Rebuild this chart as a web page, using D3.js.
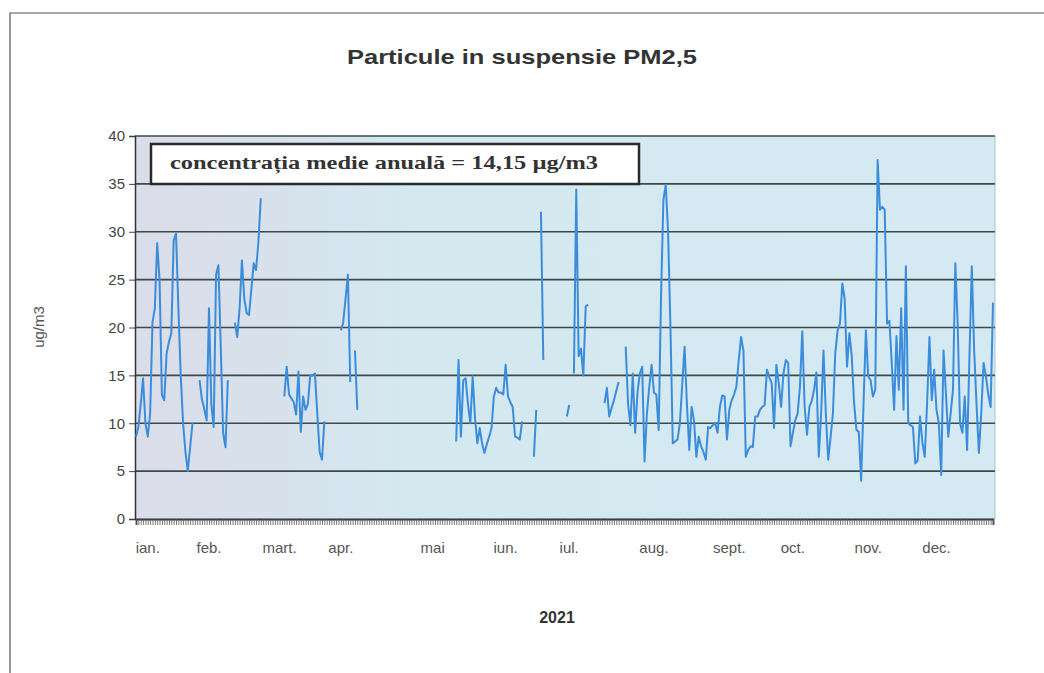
<!DOCTYPE html>
<html><head><meta charset="utf-8">
<script src="https://cdn.jsdelivr.net/npm/d3@7"></script>
<style>body{margin:0;background:#fff;}svg{display:block;}</style>
</head><body>
<svg id="c" width="1044" height="673"></svg>
<script>
// Daily PM2.5 values (µg/m3), 2021, null = missing day
const jan = [8.6,9.6,12,14.7,10,8.6,11,20.5,22,28.8,25,13,12.4,17.3,18.5,19.4,29.1,29.8,22,15,10,7,5,7.5,10,null,null,14.5,12.5,11.5,10.3];
const feb = [22,12,9.6,25.5,26.5,18,9,7.5,14.5,null,null,20.5,19,22,27,23,21.5,21.3,24,26.7,26,29,33.5,null,null,null,null,null];
const mar = [null,null,null,null,12.8,15.9,13,12.6,12.2,10.9,15.4,9.1,12.8,11.4,12,15,15,15.2,11,7,6.2,10.2,null,null,null,null,null,null,19.7,20.5,23];
const apr = [25.5,14.3,null,17.6,11.4,null,null,null,null,null,null,null,null,null,null,null,null,null,null,null,null,null,null,null,null,null,null,null,null,null];
const mai = [null,null,null,null,null,null,null,null,null,null,null,null,null,null,null,null,8.1,16.6,8.6,14.5,14.7,12,10,14.9,10.5,7.9,9.5,7.9,6.9,7.8,8.6];
const iun = [9.5,12.8,13.7,13.2,13.2,13,16.1,12.8,12.2,11.7,8.6,8.5,8.3,10.2,null,null,null,null,6.5,11.4,null,32.1,16.6,null,null,null,null,null,null,null];
const iul = [null,null,10.7,11.9,null,15.2,34.4,17,17.8,15,22.2,22.4,null,null,null,null,null,null,12.1,13.7,10.7,11.6,12.4,13.4,14.3,null,null,18,12,9.8,15.2];
const aug = [9,13.2,15.2,15.9,6,11,13.8,16.1,13.2,13,9.3,23.2,33.3,34.9,30,20,7.9,8.1,8.3,10,14,18,12,7.2,11.7,10.3,6.5,8.6,7.6,7,6.2];
const sep = [9.6,9.5,9.8,10,9,11.7,12.9,12.8,8.3,11.4,12.4,13,13.8,16.6,19,17.6,6.5,7.2,7.6,7.5,10.7,10.7,11.4,11.7,11.9,15.6,14.8,14.2,9.5,16.1];
const oct = [14.2,11.7,15.2,16.6,16.3,7.6,9,10.3,11,13.8,19.6,11.7,8.8,11.7,12.3,13.5,15.3,6.5,11,17.6,11,6.2,8.5,11,17.3,19.7,20.4,24.6,23,15.9,19.4];
const nov = [17,12.1,9.3,9.1,4,12,19.7,14.9,14.5,12.8,13.5,37.5,32.3,32.6,32.3,20.4,20.7,16.3,11.4,19.1,13.5,22,11.4,26.4,10,9.8,9.6,5.8,6.1,10.7];
const dec = [8,6.5,12,19,12.4,15.6,11.4,10,4.6,17.6,13.1,8.6,11,13.5,26.7,20.4,10,9,12.8,7.2,17,26.4,17.6,12,6.9,11,16.3,14.9,13,11.7,22.6];

const monthLabels = ["ian.","feb.","mart.","apr.","mai","iun.","iul.","aug.","sept.","oct.","nov.","dec."];
const monthLabelDay = [5,31,61,87,126,157,184,220,252,279,311,340];
const yTicks = [0,5,10,15,20,25,30,35,40];
const title = "Particule in suspensie PM2,5";
const annotation = "concentrația medie anuală  = 14,15 µg/m3";
const xTitle = "2021";
const yTitle = "ug/m3";

const values = [].concat(jan,feb,mar,apr,mai,iun,iul,aug,sep,oct,nov,dec);

const svg = d3.select("#c");
const L = 135, R = 995, T = 136, B = 519;

const x = d3.scaleLinear().domain([0, values.length - 1]).range([L + 1, R - 2]);
const y = d3.scaleLinear().domain([0, 40]).range([B, T]);

// outer frame
svg.append("path").attr("d", `M10,673 L10,13 L1044,13`).attr("fill","none").attr("stroke","#555").attr("stroke-width",1.2);

// background gradient
const defs = svg.append("defs");
const g = defs.append("linearGradient").attr("id","bg").attr("x1","0").attr("x2","1").attr("y1","0").attr("y2","0");
g.append("stop").attr("offset","0%").attr("stop-color","#dbdde9");
g.append("stop").attr("offset","18%").attr("stop-color","#d7e2ed");
g.append("stop").attr("offset","32%").attr("stop-color","#d4e8f0");
g.append("stop").attr("offset","100%").attr("stop-color","#d4e9f1");
svg.append("rect").attr("x",L).attr("y",T).attr("width",R-L).attr("height",B-T).attr("fill","url(#bg)");
svg.append("line").attr("x1",R).attr("x2",R).attr("y1",T).attr("y2",B).attr("stroke","#a9c3cc").attr("stroke-width",1);

// gridlines
svg.append("g").selectAll("line").data(yTicks.filter(d => d > 0)).join("line")
  .attr("x1",L).attr("x2",R).attr("y1",d=>y(d)).attr("y2",d=>y(d))
  .attr("stroke","#3c4a4a").attr("stroke-width",1.6);

// y axis
const yAxis = svg.append("g").attr("transform",`translate(${L},0)`)
  .call(d3.axisLeft(y).tickValues(yTicks).tickSize(6).tickPadding(4));
yAxis.select(".domain").attr("stroke","#333").attr("stroke-width",1.5);
yAxis.selectAll(".tick line").attr("stroke","#444");
yAxis.selectAll("text").attr("font-family","Liberation Sans, Arial, sans-serif").attr("font-size",15).attr("fill","#444");

// x axis: daily ticks
const xAxis = svg.append("g").attr("transform",`translate(0,${B})`)
  .call(d3.axisBottom(x).tickValues(d3.range(values.length)).tickSize(6).tickFormat(""));
xAxis.select(".domain").attr("stroke","#333").attr("stroke-width",1.8);
xAxis.selectAll(".tick line").attr("stroke","#555").attr("stroke-width",0.8);

// month labels
svg.append("g").selectAll("text").data(monthLabels).join("text")
  .attr("x",(d,i)=>x(monthLabelDay[i])).attr("y",553)
  .attr("text-anchor","middle").attr("font-family","Liberation Sans, Arial, sans-serif")
  .attr("font-size",15).attr("fill","#555").text(d=>d);

// series line
const line = d3.line().defined(d => d != null).x((d,i)=>x(i)).y(d=>y(d));
svg.append("path").datum(values).attr("d",line).attr("fill","none")
  .attr("stroke","#3b8ddb").attr("stroke-width",2).attr("stroke-linejoin","round");

// annotation box
svg.append("rect").attr("x",151).attr("y",144).attr("width",488).attr("height",40)
  .attr("fill","#fff").attr("stroke","#2a2a2a").attr("stroke-width",2.5);
svg.append("text").attr("x",170).attr("y",169).attr("font-family","Liberation Serif, Times New Roman, serif")
  .attr("font-weight","bold").attr("font-size",18).attr("fill","#333")
  .attr("textLength",428).attr("lengthAdjust","spacingAndGlyphs").text(annotation);

// titles
svg.append("text").attr("x",522).attr("y",64).attr("text-anchor","middle")
  .attr("font-family","Liberation Sans, Arial, sans-serif").attr("font-weight","bold").attr("font-size",21)
  .attr("fill","#333").attr("textLength",350).attr("lengthAdjust","spacingAndGlyphs").text(title);
svg.append("text").attr("x",557).attr("y",623).attr("text-anchor","middle")
  .attr("font-family","Liberation Sans, Arial, sans-serif").attr("font-weight","bold").attr("font-size",16)
  .attr("fill","#333").text(xTitle);
svg.append("text").attr("transform","translate(44,327) rotate(-90)").attr("text-anchor","middle")
  .attr("font-family","Liberation Sans, Arial, sans-serif").attr("font-size",15).attr("fill","#555").text(yTitle);
</script>
</body></html>
